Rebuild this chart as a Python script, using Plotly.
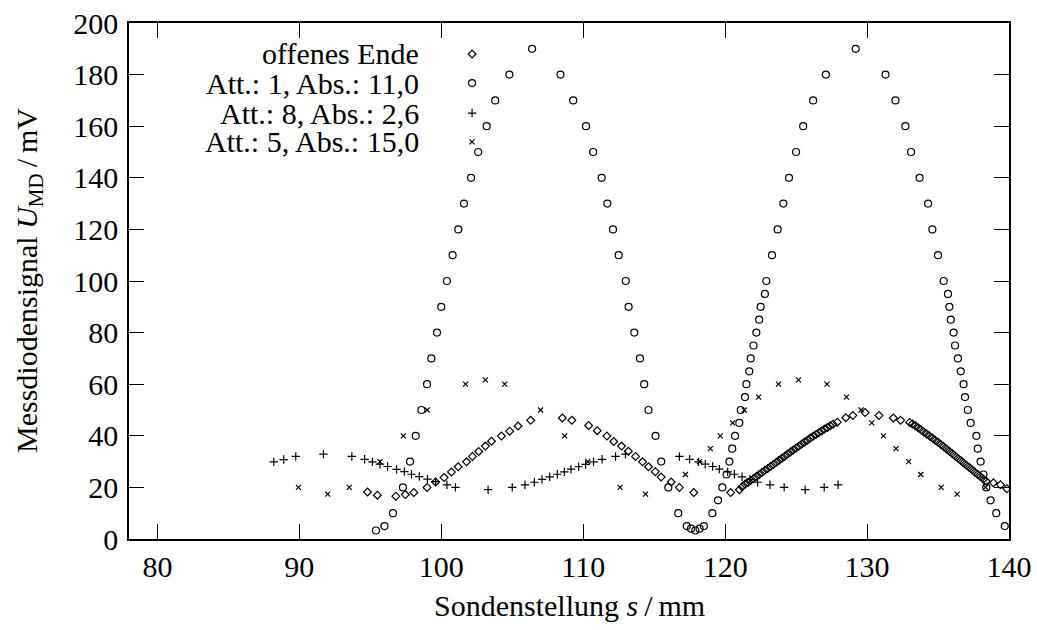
import plotly.graph_objects as go

# ---------------- data ----------------
# offenes Ende (diamonds)
ende_x = [94.8, 95.5, 96.8, 97.47, 98.07, 99.0, 99.6, 100.2, 100.72, 101.19, 101.78, 102.2, 102.64,
          103.11, 103.54, 104.24, 104.82, 105.41, 106.3, 108.53, 109.2, 110.38, 110.99, 111.67,
          112.15, 112.7, 113.18, 113.69, 114.18, 114.6, 115.08, 115.49, 116.2, 116.78, 117.79,
          120.39, 121.0,
          121.2, 121.4, 121.6, 121.8, 122.0, 122.2, 122.4, 122.6, 122.8, 123.0, 123.2, 123.4, 123.6,
          123.8, 124.0, 124.2, 124.4, 124.6, 124.8, 125.0, 125.2, 125.4, 125.6, 125.8, 126.0, 126.2,
          126.4, 126.6, 126.8, 127.0, 127.2, 127.4, 127.6, 127.9, 128.5, 129.0, 129.86, 130.84,
          131.85, 132.36, 133.0, 133.2, 133.4, 133.6, 133.8, 134.0, 134.2, 134.4, 134.6, 134.8,
          135.0, 135.2, 135.4, 135.6, 135.8, 136.0, 136.2, 136.4, 136.6, 136.8, 137.0, 137.2,
          137.4, 137.6, 137.8, 138.0, 138.2, 138.4, 138.9, 139.4, 139.85]
ende_y = [18.2, 17.0, 16.6, 17.2, 18.0, 20.0, 22.1, 23.8, 26.0, 28.0, 29.9, 32.0, 33.9,
          36.0, 37.9, 39.9, 41.8, 43.8, 46.0, 46.9, 46.0, 44.0, 42.0, 39.9,
          37.8, 36.0, 34.0, 32.0, 29.9, 28.0, 26.1, 24.0, 22.1, 20.0, 18.0,
          18.0, 19.1,
          20.3, 21.2, 21.9, 22.7, 23.4, 24.2, 25.0, 25.8, 26.6, 27.3, 28.1, 28.9, 29.7,
          30.5, 31.3, 32.1, 32.9, 33.7, 34.5, 35.3, 36.0, 36.8, 37.6, 38.3, 39.1, 39.8,
          40.5, 41.2, 41.9, 42.6, 43.2, 43.9, 44.5, 45.3, 47.0, 47.9, 49.0, 47.9,
          46.9, 46.0, 45.2, 44.6, 43.9, 43.1, 42.3, 41.5, 40.7, 39.9, 39.1, 38.3,
          37.5, 36.6, 35.8, 34.9, 34.0, 33.1, 32.2, 31.3, 30.4, 29.5, 28.6, 27.7,
          26.8, 25.9, 25.0, 24.1, 23.2, 22.4, 21.8, 21.0, 19.5]

# Att.: 1, Abs.: 11,0 (circles)
att1_x = [95.4, 96.0, 96.6, 97.3, 97.8, 98.2, 98.6, 99.0, 99.3, 99.7, 100.0, 100.4, 100.8, 101.2,
          101.6, 102.1, 102.6, 103.2, 103.8, 104.8, 106.4, 108.4, 109.3, 110.2, 110.7, 111.3,
          111.7, 112.1, 112.5, 113.0, 113.2, 113.6, 114.0, 114.3, 114.6, 115.1, 115.5, 116.0,
          116.7, 117.3, 117.6, 117.9, 118.2, 118.5, 119.1, 119.5, 119.8, 120.1, 120.3, 120.5,
          120.7, 121.0, 121.1, 121.4, 121.5, 121.7, 121.8, 122.0, 122.2, 122.4, 122.5, 122.8,
          122.9, 123.3, 123.7, 124.1, 124.5, 125.0, 125.5, 126.2, 127.1, 129.2, 131.3, 132.0,
          132.7, 133.1, 133.7, 134.3, 134.6, 135.0, 135.4, 135.7, 135.8, 135.9, 136.1, 136.2,
          136.4, 136.6, 136.8, 136.9, 137.1, 137.3, 137.7, 137.8, 138.0, 138.2, 138.4, 138.7,
          139.1, 139.7]
att1_y = [3.3, 5, 10, 20, 30, 40, 50, 60, 70, 80, 90, 100, 110, 120,
          130, 140, 150, 160, 170, 180, 190, 180, 170, 160, 150, 140,
          130, 120, 110, 100, 90, 80, 70, 60, 50, 40, 30, 20,
          10, 5, 4, 3.3, 4, 5, 10, 15, 20, 25, 30, 35,
          40, 45, 50, 55, 60, 65, 70, 75, 80, 85, 90, 95,
          100, 110, 120, 130, 140, 150, 160, 170, 180, 190, 180, 170,
          160, 150, 140, 130, 120, 110, 100, 95, 90, 85, 80, 75,
          70, 65, 60, 55, 50, 45, 40, 35, 30, 25, 20, 15,
          10, 5]

# Att.: 8, Abs.: 2,6 (plus)
att8_x = [88.2, 88.9, 89.75, 91.7, 93.7, 94.6, 95.15, 95.68, 96.22, 96.85, 97.4, 97.9, 98.45,
          99.03, 99.6, 100.4, 101.0, 103.3, 105.0, 105.9, 106.56, 107.1, 107.64, 108.18,
          108.67, 109.14, 109.68, 110.17, 110.73, 111.33, 112.28, 112.98, 116.78, 117.5,
          118.13, 118.6, 119.12, 119.59, 120.18, 120.65, 121.19, 121.75, 122.29, 123.16,
          124.16, 125.64, 126.98, 127.96]
att8_y = [29.9, 30.8, 32.0, 32.9, 32.0, 30.9, 29.9, 29.0, 28.1, 27.0, 26.1, 25.1, 24.2,
          23.2, 22.2, 21.0, 20.0, 19.1, 20.0, 21.0, 22.0, 23.1, 24.1, 25.1,
          26.0, 27.1, 28.0, 28.9, 29.9, 30.9, 32.0, 32.9, 32.0, 30.9,
          29.9, 29.0, 28.1, 27.1, 26.0, 25.1, 24.1, 23.1, 22.0, 21.0,
          20.0, 19.1, 20.0, 21.0]

# Att.: 5, Abs.: 15,0 (x)
att5_x = [89.94, 92.0, 93.52, 95.68, 97.33, 99.01, 101.71, 103.11, 104.47, 107.0, 108.69, 110.33,
          112.6, 114.39, 117.2, 118.19, 118.96, 119.66, 120.53, 121.35, 122.36, 123.76, 125.17,
          127.17, 128.55, 129.58, 130.33, 131.15, 132.04, 132.93, 133.78, 135.22, 136.35, 138.35]
att5_y = [20, 17.4, 20, 30, 40, 50, 60, 61.7, 60, 50, 40, 30,
          20, 17.4, 25, 30, 35, 40, 45, 50, 55, 60, 61.7,
          60, 55, 50, 45, 40, 35, 30, 25, 20, 17.4, 20]

legend_labels = ["offenes Ende", "Att.: 1, Abs.: 11,0", "Att.: 8, Abs.: 2,6", "Att.: 5, Abs.: 15,0"]
legend_key_x = 102.17
legend_key_y = [188.0, 176.7, 165.1, 153.9]

x_ticks = [80, 90, 100, 110, 120, 130, 140]
y_ticks = [0, 20, 40, 60, 80, 100, 120, 140, 160, 180, 200]

# ---------------- styling ----------------
FONT = "Liberation Serif"
FS = 30
W, H = 1037, 630
ML, MR, MT, MB = 129, 28, 23, 91
PW, PH = W - ML - MR, H - MT - MB

styles = [
    dict(symbol="diamond-open", size=6),
    dict(symbol="circle-open", size=7),
    dict(symbol="cross-thin-open", size=6),
    dict(symbol="x-thin-open", size=5),
]
series = [(ende_x, ende_y), (att1_x, att1_y), (att8_x, att8_y), (att5_x, att5_y)]

fig = go.Figure()
for (xs, ys), st, lab in zip(series, styles, legend_labels):
    fig.add_trace(go.Scatter(
        x=xs, y=ys, mode="markers", name=lab, showlegend=False,
        marker=dict(symbol=st["symbol"], size=st["size"], color="black",
                    line=dict(color="black", width=1.2)),
        cliponaxis=False,
    ))

# legend keys
for st, ky in zip(styles, legend_key_y):
    fig.add_trace(go.Scatter(
        x=[legend_key_x], y=[ky], mode="markers", showlegend=False, hoverinfo="skip",
        marker=dict(symbol=st["symbol"], size=st["size"], color="black",
                    line=dict(color="black", width=1.2)),
    ))

# legend texts (right aligned, left of the keys)
text_right_px = 421
for lab, ky in zip(legend_labels, legend_key_y):
    fig.add_annotation(
        x=(text_right_px - ML) / PW, xref="paper", y=ky, yref="y",
        text=lab, showarrow=False, xanchor="right", yanchor="middle",
        font=dict(family=FONT, size=FS, color="black"),
    )

# axis titles
fig.add_annotation(
    x=(29 - ML) / PW, xref="paper", y=0.5, yref="paper",
    text="Messdiodensignal <i>U</i><sub>MD</sub>\u2009/\u2009mV", textangle=-90, showarrow=False,
    xanchor="center", yanchor="middle", font=dict(family=FONT, size=FS, color="black"),
)
fig.add_annotation(
    x=0.5, xref="paper", y=-(605 - (H - MB)) / PH, yref="paper",
    text="Sondenstellung <i>s</i>\u2009/\u2009mm", showarrow=False,
    xanchor="center", yanchor="middle", font=dict(family=FONT, size=FS, color="black"),
)

axis_common = dict(
    showline=True, linecolor="black", linewidth=1.5, mirror="ticks",
    ticks="inside", ticklen=15, tickwidth=1.2, tickcolor="black",
    showgrid=False, zeroline=False,
    tickfont=dict(family=FONT, size=FS, color="black"),
)
fig.update_xaxes(range=[78, 140], tickvals=x_ticks, ticklabelstandoff=0, **axis_common)
fig.update_yaxes(range=[0, 200], tickvals=y_ticks, ticklabelstandoff=3, **axis_common)

fig.update_layout(
    width=W, height=H,
    margin=dict(l=ML, r=MR, t=MT, b=MB, autoexpand=False),
    paper_bgcolor="white", plot_bgcolor="white",
    font=dict(family=FONT, size=FS, color="black"),
    showlegend=False,
)

fig.write_html("out.html")
